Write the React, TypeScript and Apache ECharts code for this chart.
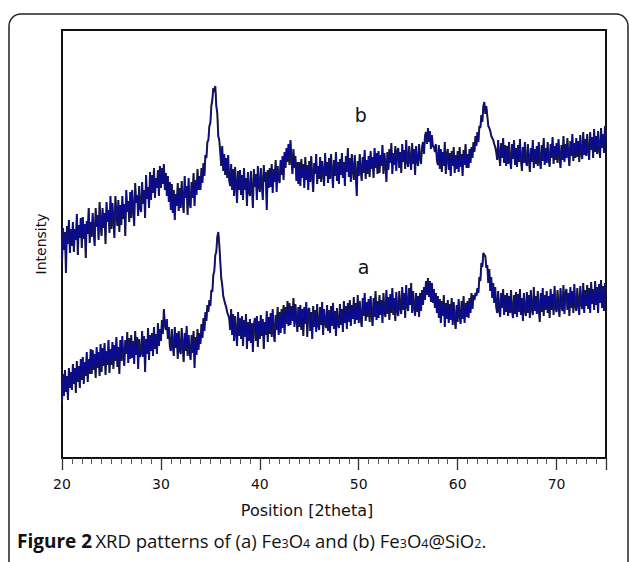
import React, { useEffect, useRef } from "react";
import * as echarts from "echarts";

// 2theta sampling of the patterns
const X_START = 20;
const X_STEP = 0.1;
const X_MIN = 20;
const X_MAX = 75;
const X_INTERVAL = 10;

// (b) Fe3O4@SiO2 — intensity (arb. units), 20.0 .. 75.0 step 0.1
const SERIES_B = [
  196, 230, 208, 226, 185, 232, 214, 238, 205, 229,
  212, 236, 206, 229, 218, 244, 203, 233, 220, 240,
  210, 241, 219, 234, 200, 237, 224, 250, 215, 236,
  221, 245, 226, 212, 250, 231, 243, 218, 256, 234,
  222, 250, 230, 245, 214, 256, 236, 248, 225, 262,
  229, 255, 237, 220, 262, 244, 232, 258, 226, 253,
  233, 262, 239, 254, 222, 268, 246, 257, 236, 266,
  240, 268, 248, 232, 275, 255, 263, 242, 272, 250,
  246, 276, 254, 268, 240, 283, 259, 271, 250, 286,
  258, 283, 265, 290, 260, 280, 270, 288, 262, 292,
  270, 290, 274, 294, 268, 285, 262, 282, 256, 276,
  248, 274, 245, 268, 238, 264, 252, 275, 247, 270,
  250, 277, 257, 245, 282, 260, 272, 243, 280, 255,
  250, 276, 260, 285, 252, 278, 263, 289, 268, 282,
  268, 290, 275, 295, 282, 303, 300, 316, 318, 332,
  335, 352, 358, 370, 366, 372, 352, 345, 322, 318,
  306, 292, 312, 287, 304, 283, 300, 280, 303, 278,
  272, 294, 268, 289, 262, 291, 274, 255, 287, 268,
  288, 263, 283, 258, 290, 268, 280, 252, 286, 266,
  262, 287, 270, 250, 289, 271, 284, 258, 292, 272,
  266, 290, 274, 258, 293, 276, 286, 248, 288, 270,
  290, 271, 294, 265, 289, 276, 298, 266, 292, 279,
  275, 298, 283, 302, 278, 306, 290, 310, 296, 314,
  293, 318, 298, 284, 309, 290, 302, 277, 296, 274,
  296, 272, 299, 280, 294, 270, 301, 278, 293, 268,
  297, 276, 302, 281, 266, 295, 284, 304, 274, 292,
  279, 301, 276, 297, 285, 272, 305, 282, 296, 275,
  300, 279, 304, 286, 270, 298, 282, 306, 277, 296,
  274, 299, 283, 305, 280, 296, 272, 302, 286, 310,
  281, 300, 276, 304, 288, 278, 303, 284, 262, 297,
  282, 304, 288, 277, 301, 285, 308, 279, 298, 284,
  302, 281, 307, 289, 301, 280, 310, 290, 305, 284,
  307, 285, 303, 292, 313, 284, 305, 293, 276, 306,
  288, 309, 295, 315, 284, 305, 293, 312, 287, 307,
  310, 290, 306, 285, 314, 296, 308, 289, 318, 296,
  291, 312, 299, 288, 315, 294, 309, 283, 312, 297,
  292, 314, 300, 294, 311, 316, 304, 322, 326, 314,
  330, 316, 327, 309, 323, 311, 312, 306, 314, 298,
  293, 313, 289, 309, 286, 306, 292, 316, 284, 303,
  309, 288, 305, 282, 307, 292, 311, 285, 303, 289,
  307, 286, 311, 291, 304, 282, 308, 293, 314, 290,
  304, 290, 309, 295, 311, 300, 316, 306, 322, 312,
  326, 316, 332, 330, 343, 336, 352, 356, 344, 352,
  342, 332, 330, 327, 322, 320, 318, 314, 311, 306,
  298, 318, 302, 292, 315, 300, 320, 295, 313, 292,
  312, 294, 316, 297, 289, 314, 299, 318, 293, 310,
  291, 313, 296, 319, 298, 287, 311, 295, 316, 297,
  292, 314, 299, 286, 310, 296, 318, 290, 309, 294,
  312, 292, 316, 298, 289, 313, 297, 320, 293, 310,
  295, 316, 299, 291, 314, 300, 321, 294, 312, 298,
  315, 295, 319, 301, 290, 313, 298, 322, 296, 314,
  300, 320, 303, 292, 317, 302, 324, 297, 315, 300,
  320, 301, 317, 296, 323, 305, 299, 326, 303, 319,
  302, 324, 307, 298, 326, 308, 321, 300, 329, 306,
  322, 304, 327, 309, 300, 330, 310, 324, 305, 332,
  320,
];

// (a) Fe3O4 — intensity (arb. units), 20.0 .. 75.0 step 0.1
const SERIES_A = [
  56, 84, 62, 88, 66, 82, 58, 90, 70, 86,
  68, 94, 74, 90, 65, 97, 76, 92, 70, 99,
  78, 101, 74, 96, 82, 106, 76, 99, 84, 109,
  84, 108, 88, 104, 80, 111, 90, 106, 82, 114,
  86, 110, 92, 115, 83, 107, 93, 118, 85, 109,
  93, 116, 89, 113, 97, 121, 91, 111, 84, 118,
  97, 122, 100, 92, 118, 104, 126, 95, 120, 99,
  123, 100, 117, 94, 127, 103, 121, 89, 119, 101,
  105, 127, 101, 122, 86, 119, 104, 130, 98, 123,
  107, 125, 102, 131, 109, 124, 104, 135, 112, 129,
  117, 138, 124, 149, 134, 128, 139, 119, 131, 112,
  107, 129, 113, 102, 131, 110, 125, 99, 127, 108,
  104, 130, 112, 96, 125, 107, 132, 102, 123, 106,
  98, 123, 105, 127, 90, 121, 103, 129, 108, 125,
  114, 134, 120, 140, 127, 146, 137, 153, 146, 158,
  152, 168, 166, 183, 187, 203, 206, 221, 226, 214,
  197, 180, 173, 162, 158, 154, 151, 146, 143, 140,
  128, 149, 123, 144, 117, 142, 126, 112, 146, 122,
  140, 119, 142, 112, 138, 121, 144, 109, 136, 117,
  139, 115, 135, 106, 133, 140, 117, 142, 111, 137,
  119, 143, 122, 139, 109, 136, 123, 147, 116, 141,
  124, 145, 121, 149, 126, 116, 143, 128, 151, 123,
  146, 125, 149, 130, 153, 124, 151, 134, 157, 132,
  155, 133, 152, 137, 160, 131, 154, 139, 126, 151,
  131, 153, 128, 149, 122, 151, 134, 156, 121, 148,
  150, 127, 146, 119, 152, 131, 148, 126, 154, 132,
  128, 151, 133, 156, 123, 149, 135, 130, 153, 127,
  148, 125, 152, 132, 155, 129, 147, 122, 150, 134,
  130, 154, 133, 149, 126, 157, 135, 152, 129, 155,
  136, 158, 132, 153, 139, 161, 134, 155, 138, 163,
  135, 157, 140, 131, 160, 142, 165, 137, 156, 141,
  159, 136, 162, 144, 132, 160, 141, 167, 138, 157,
  140, 163, 143, 158, 135, 165, 146, 141, 168, 144,
  161, 138, 164, 145, 170, 143, 160, 137, 166, 147,
  142, 167, 150, 144, 171, 148, 165, 140, 173, 152,
  147, 170, 153, 175, 145, 167, 151, 142, 165, 146,
  162, 141, 165, 147, 168, 153, 171, 158, 177, 163,
  180, 161, 177, 156, 175, 155, 169, 150, 165, 145,
  162, 140, 159, 135, 157, 142, 163, 131, 155, 139,
  158, 135, 154, 138, 160, 133, 156, 140, 129, 153,
  136, 159, 142, 134, 157, 139, 162, 135, 155, 141,
  157, 140, 160, 145, 165, 149, 163, 158, 165, 162,
  170, 165, 181, 177, 195, 191, 205, 203, 202, 190,
  193, 175, 189, 167, 181, 160, 175, 155, 171, 151,
  145, 167, 148, 141, 165, 150, 169, 143, 163, 146,
  165, 142, 162, 145, 168, 147, 140, 163, 144, 166,
  141, 164, 146, 169, 143, 160, 137, 165, 148, 142,
  166, 145, 163, 140, 168, 149, 143, 171, 147, 162,
  144, 167, 150, 136, 165, 146, 170, 142, 163, 148,
  167, 145, 162, 140, 169, 148, 164, 143, 172, 150,
  146, 168, 151, 141, 170, 153, 147, 173, 144, 165,
  169, 148, 165, 142, 171, 150, 167, 145, 174, 152,
  147, 170, 153, 143, 172, 155, 149, 175, 145, 168,
  152, 173, 149, 170, 145, 176, 154, 169, 148, 177,
  153, 171, 145, 174, 155, 178, 150, 172, 147, 175,
  165,
];

// curve labels: [2theta, intensity, text]
const LABEL_B: [number, number, string] = [50.2, 343, "b"];
const LABEL_A: [number, number, string] = [50.5, 191, "a"];

const Y_MIN = 0;
const Y_MAX = 428;

function toPairs(values: number[]): [number, number][] {
  return values.map((v, i) => [Math.round((X_START + i * X_STEP) * 10) / 10, v]);
}

export default function App() {
  const ref = useRef<HTMLDivElement>(null);

  useEffect(() => {
    if (!ref.current) return;
    const chart = echarts.init(ref.current, null, { renderer: "svg" });
    const dataB = toPairs(SERIES_B);
    const dataA = toPairs(SERIES_A);

    const under = (data: [number, number][]) => ({
      type: "line",
      data,
      showSymbol: false,
      silent: true,
      lineStyle: { color: "#262626", width: 2 },
      z: 2,
    });
    const top = (data: [number, number][], lab: [number, number, string]) => ({
      type: "line",
      data,
      showSymbol: false,
      silent: true,
      lineStyle: { color: "#0a0a90", width: 1.1 },
      z: 3,
      markPoint: {
        symbol: "circle",
        symbolSize: 0,
        silent: true,
        data: [
          {
            coord: [lab[0], lab[1]],
            label: {
              show: true,
              formatter: lab[2],
              fontSize: 19,
              fontFamily: "DejaVu Sans",
              color: "#111",
              position: "inside",
            },
          },
        ],
      },
    });

    chart.setOption({
      animation: false,
      backgroundColor: "#fff",
      grid: {
        left: 62,
        top: 30,
        width: 544,
        height: 428,
        show: true,
        borderColor: "#111",
        borderWidth: 2,
        containLabel: false,
      },
      xAxis: {
        type: "value",
        min: X_MIN,
        max: X_MAX,
        interval: X_INTERVAL,
        axisLine: { show: true, lineStyle: { color: "#111", width: 2 } },
        axisTick: {
          show: true,
          length: 12,
          inside: false,
          lineStyle: { color: "#333", width: 1.3 },
        },
        minorTick: {
          show: true,
          splitNumber: 10,
          length: 6,
          lineStyle: { color: "#555", width: 1 },
        },
        axisLabel: {
          margin: 19,
          fontSize: 14,
          fontFamily: "DejaVu Sans",
          color: "#111",
          showMaxLabel: false,
          formatter: (v: number) => (v % X_INTERVAL === 0 ? String(v) : ""),
        },
        splitLine: { show: false },
      },
      yAxis: {
        type: "value",
        min: Y_MIN,
        max: Y_MAX,
        name: "Intensity",
        nameLocation: "middle",
        nameGap: 14,
        nameTextStyle: { fontSize: 14, fontFamily: "DejaVu Sans", color: "#111" },
        axisLine: { show: false },
        axisTick: { show: false },
        axisLabel: { show: false },
        splitLine: { show: false },
      },
      graphic: [
        {
          type: "rect",
          shape: { x: 9, y: 14, width: 619, height: 620, r: 12 },
          style: { fill: "none", stroke: "#222", lineWidth: 1.5 },
          silent: true,
          z: 0,
        },
        {
          type: "text",
          x: 307,
          y: 510,
          style: {
            text: "Position [2theta]",
            fontSize: 16,
            fontFamily: "DejaVu Sans",
            fill: "#111",
            align: "center",
            verticalAlign: "middle",
          },
          silent: true,
        },
        {
          type: "text",
          x: 17,
          y: 539,
          style: {
            text: "{b|Figure 2} {n|XRD patterns of (a) Fe}{s|3}{n|O}{s|4}{n| and (b) Fe}{s|3}{n|O}{s|4}{n|@SiO}{s|2}{n|.}",
            verticalAlign: "middle",
            rich: {
              b: { fontSize: 19, fontWeight: "bold", fontFamily: "Open Sans", fill: "#111", lineHeight: 22, verticalAlign: "bottom" },
              n: { fontSize: 18.5, fontFamily: "Open Sans", fill: "#111", lineHeight: 22, verticalAlign: "bottom" },
              s: { fontSize: 12.5, fontFamily: "Open Sans", fill: "#111", lineHeight: 14, verticalAlign: "bottom" },
            },
          },
          silent: true,
        },
      ],
      series: [under(dataB), top(dataB, LABEL_B), under(dataA), top(dataA, LABEL_A)],
    });

    return () => chart.dispose();
  }, []);

  return (
    <div
      ref={ref}
      style={{ position: "fixed", left: 0, top: 0, width: 629, height: 562 }}
    />
  );
}
